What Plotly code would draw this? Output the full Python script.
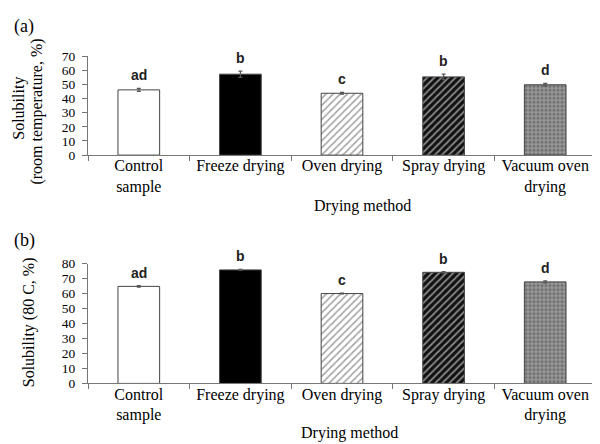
import plotly.graph_objects as go

categories = ["Control<br>sample", "Freeze drying", "Oven drying", "Spray drying", "Vacuum oven<br>drying"]
room_values = [46.2, 57.3, 43.8, 55.4, 49.8]
room_errors = [1.0, 2.2, 0.6, 2.0, 1.0]
hot_values = [64.8, 75.8, 60.0, 74.2, 67.8]
hot_errors = [0.5, 0.3, 0.3, 0.4, 0.7]
letters = ["ad", "b", "c", "b", "d"]
room_ticks = [0, 10, 20, 30, 40, 50, 60, 70]
hot_ticks = [0, 10, 20, 30, 40, 50, 60, 70, 80]

bg_colors = ["white", "black", "white", "#111111", "#9a9a9a"]
pat_shapes = ["", "", "/", "/", "."]
pat_fg = ["white", "black", "#8c8c8c", "#a0a0a0", "#ffffff"]
pat_size = [8, 8, 5, 5, 4]
pat_sol = [0.3, 0.3, 0.3, 0.35, 0.5]

serif = "Liberation Serif"
fig = go.Figure()

for values, errors, xa, ya in [(room_values, room_errors, "x", "y"), (hot_values, hot_errors, "x2", "y2")]:
    fig.add_trace(go.Bar(
        x=categories, y=values, xaxis=xa, yaxis=ya,
        marker=dict(color=bg_colors, line=dict(color="#444", width=1),
                    pattern=dict(shape=pat_shapes, fgcolor=pat_fg, bgcolor=bg_colors,
                                 size=pat_size, solidity=pat_sol)),
        error_y=dict(type="data", array=errors, color="#555", thickness=1.2, width=2),
        showlegend=False,
    ))
    for c, v, e, t in zip(categories, values, errors, letters):
        fig.add_annotation(x=c, y=v + e, xref=xa, yref=ya, text="<b>%s</b>" % t,
                           showarrow=False, yanchor="bottom", yshift=3,
                           font=dict(family="Liberation Sans", size=14, color="#222"))

axis_common = dict(showline=True, linecolor="#777", linewidth=1, ticks="outside",
                   ticklen=5, tickcolor="#777", showgrid=False, zeroline=False)
xfont = dict(family=serif, size=16, color="black")
yfont = dict(family=serif, size=13.5, color="black")

fig.update_layout(
    width=600, height=444, margin=dict(l=0, r=0, t=0, b=0),
    paper_bgcolor="white", plot_bgcolor="white", bargap=0.59,
    xaxis=dict(domain=[80/600, 588/600], anchor="y", type="category", ticklabelstandoff=-4,
               range=[-0.5, 4.5], tickson="boundaries", tickfont=xfont, **axis_common),
    yaxis=dict(domain=[1 - 145/444, 1 - 42.7/444], anchor="x", range=[0, 70], ticklabelstandoff=4,
               tickvals=room_ticks, tickfont=yfont, **axis_common),
    xaxis2=dict(domain=[80/600, 588/600], anchor="y2", type="category", ticklabelstandoff=-4,
                range=[-0.5, 4.5], tickson="boundaries", tickfont=xfont, **axis_common),
    yaxis2=dict(domain=[1 - 381.3/444, 1 - 257.3/444], anchor="x2", range=[0, 80], ticklabelstandoff=4,
                tickvals=hot_ticks, tickfont=yfont, **axis_common),
)

txt = dict(showarrow=False, xref="paper", yref="paper", font=dict(family=serif, size=16, color="black"))
fig.add_annotation(text="(a)", x=4/600, y=1 - 12/444, xanchor="left", yanchor="middle",
                   **{**txt, "font": dict(family=serif, size=18, color="black")})
fig.add_annotation(text="(b)", x=4/600, y=1 - 233/444, xanchor="left", yanchor="middle",
                   **{**txt, "font": dict(family=serif, size=18, color="black")})
fig.add_annotation(text="Solubility", textangle=-90,
                   x=11/600, y=1 - 97/444, xanchor="center", yanchor="middle", **txt)
fig.add_annotation(text="(room temperature, %)", textangle=-90,
                   x=29/600, y=1 - 100/444, xanchor="center", yanchor="middle", **txt)
fig.add_annotation(text="Solubility (80 C, %)", textangle=-90,
                   x=21/600, y=1 - 318/444, xanchor="center", yanchor="middle", **txt)
fig.add_annotation(text="Drying method", x=354/600, y=1 - 198/444,
                   xanchor="center", yanchor="middle", **txt)
fig.add_annotation(text="Drying method", x=342/600, y=1 - 433/444,
                   xanchor="center", yanchor="middle", **txt)

fig.write_html("out.html")
